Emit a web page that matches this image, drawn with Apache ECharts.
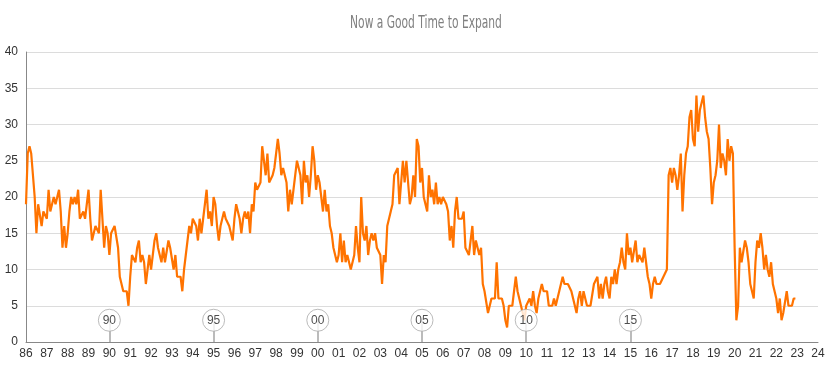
<!DOCTYPE html>
<html>
<head>
<meta charset="utf-8">
<script src="https://cdn.jsdelivr.net/npm/echarts@6/dist/echarts.min.js"></script>
<style>
html,body{margin:0;padding:0;background:#fff;}
#chart{width:833px;height:370px;}
</style>
</head>
<body>
<div id="chart"></div>
<script>
// ---- data (monthly, starting Jan 1986) ----
const titleText = 'Now a Good Time to Expand';
const startYear = 1986;
const xMin = 1986, xMax = 2024;
const yMin = 0, yMax = 40, yStep = 5;
const monthlyValues = [
  19,26,27,26,23,20,15,19,19,16,18,18, // 1986
  17,21,18,18,20,19,20,21,18,13,16,13, // 1987
  15,18,20,19,20,19,21,17,17,18,17,17, // 1988
  21,17,14,15,16,16,15,21,17,13,16,15, // 1989
  12,15,15,16,16,13,9,9,7,7,7,5,       // 1990
  9,12,12,11,13,14,11,12,11,8,10,12,   // 1991
  10,12,14,15,13,13,11,13,11,11,14,13, // 1992
  13,10,12,9,9,9,7,10,12,14,16,15,     // 1993
  17,17,16,14,17,15,15,19,21,17,18,16, // 1994
  20,19,16,14,16,17,18,17,17,16,16,14, // 1995
  17,19,19,17,15,17,18,17,18,15,19,18, // 1996
  22,21,21,22,27,27,23,26,22,22,23,24, // 1997
  26,28,26,23,24,24,22,18,21,19,21,23, // 1998
  25,24,23,19,25,22,23,20,23,27,25,21, // 1999
  23,22,20,18,21,18,19,16,15,13,13,11, // 2000
  12,15,11,14,11,12,12,10,11,12,16,13, // 2001
  11,20,15,14,16,12,14,15,14,15,13,13, // 2002
  12,8,12,11,16,16,18,19,23,23,24,19,  // 2003
  19,25,22,25,22,19,20,23,20,28,27,22, // 2004
  24,20,19,18,23,20,21,19,22,19,20,19, // 2005
  20,20,19,18,14,16,13,18,20,17,17,17, // 2006
  18,13,13,12,14,16,12,14,14,12,13,8,  // 2007
  7,7,4,5,6,6,6,11,6,6,6,5,            // 2008
  3,2,5,5,5,5,9,7,7,5,4,3,             // 2009
  5,5,6,5,7,5,4,6,7,8,7,7,             // 2010
  7,5,5,5,6,5,6,7,7,9,8,8,             // 2011
  8,8,7,6,5,4,6,7,5,7,7,5,             // 2012
  5,5,5,8,8,9,6,8,6,8,9,7,             // 2013
  6,9,8,10,8,10,11,13,11,10,15,12,     // 2014
  13,11,11,14,11,12,12,11,13,11,9,8,   // 2015
  6,8,9,8,8,8,8,9,9,10,23,24,          // 2016
  22,24,23,21,23,26,18,23,26,27,31,32, // 2017
  28,27,34,29,32,33,34,31,29,28,24,19, // 2018
  22,23,25,30,24,26,25,23,28,25,27,26, // 2019
  13,3,5,13,11,11,14,13,11,8,7,6,      // 2020
  11,14,13,15,13,10,12,10,9,11,8,8,    // 2021
  6,4,6,3,4,4,7,5,5,5,6,6              // 2022
];
const markerYears = [1990, 1995, 2000, 2005, 2010, 2015];
const markerLabels = ['90', '95', '00', '05', '10', '15'];
const markerLevel = 3;

// ---- build ----
const lineData = monthlyValues.map((v, i) => [startYear + i / 12, v]);
const markerData = markerYears.map((y, i) => ({ value: [y, markerLevel], label: { formatter: markerLabels[i] } }));
const stemData = markerYears.map(y => [{ coord: [y, 0] }, { coord: [y, markerLevel] }]);

const chart = echarts.init(document.getElementById('chart'), null, { renderer: 'canvas' });
chart.setOption({
  animation: false,
  backgroundColor: '#fff',
  graphic: [{
    type: 'text',
    x: 426, y: 23,
    scaleX: 0.66,
    style: {
      text: titleText,
      x: 0, y: 0,
      textAlign: 'center',
      textVerticalAlign: 'middle',
      fontFamily: '"Liberation Sans Narrow", "DejaVu Sans Condensed", sans-serif',
      fontSize: 18,
      fill: '#808080'
    }
  }],
  grid: { left: 26, right: 15, top: 52, bottom: 28 },
  xAxis: {
    type: 'value',
    min: xMin, max: xMax, interval: 1,
    axisLine: { show: true, lineStyle: { color: '#888', width: 1 } },
    axisTick: { show: false },
    splitLine: { show: false },
    axisLabel: {
      color: '#333', fontSize: 12, margin: 6,
      fontFamily: 'Liberation Sans, Arial, sans-serif',
      formatter: v => String(Math.round(v) % 100).padStart(2, '0')
    }
  },
  yAxis: {
    type: 'value',
    min: yMin, max: yMax, interval: yStep,
    axisLine: { show: true, lineStyle: { color: '#888', width: 1 } },
    axisTick: { show: false },
    splitLine: { show: true, lineStyle: { color: '#dcdcdc', width: 1 } },
    axisLabel: { color: '#333', fontSize: 12, margin: 8, fontFamily: 'Liberation Sans, Arial, sans-serif' }
  },
  series: [
    {
      type: 'line',
      data: lineData,
      showSymbol: false,
      symbol: 'none',
      lineStyle: { color: '#ff7300', width: 2.2 },
      itemStyle: { color: '#ff7300' },
      z: 2
    },
    {
      type: 'scatter',
      data: markerData,
      symbol: 'circle',
      symbolSize: 22,
      itemStyle: { color: '#fff', borderColor: '#aaa', borderWidth: 1 },
      label: { show: true, position: 'inside', color: '#222', fontSize: 12, fontFamily: 'Liberation Sans, Arial, sans-serif' },
      z: 5,
      markLine: {
        silent: true,
        symbol: 'none',
        label: { show: false },
        lineStyle: { color: '#bbb', width: 2, type: 'solid' },
        data: stemData,
        z: 4
      }
    }
  ]
});
</script>
</body>
</html>
